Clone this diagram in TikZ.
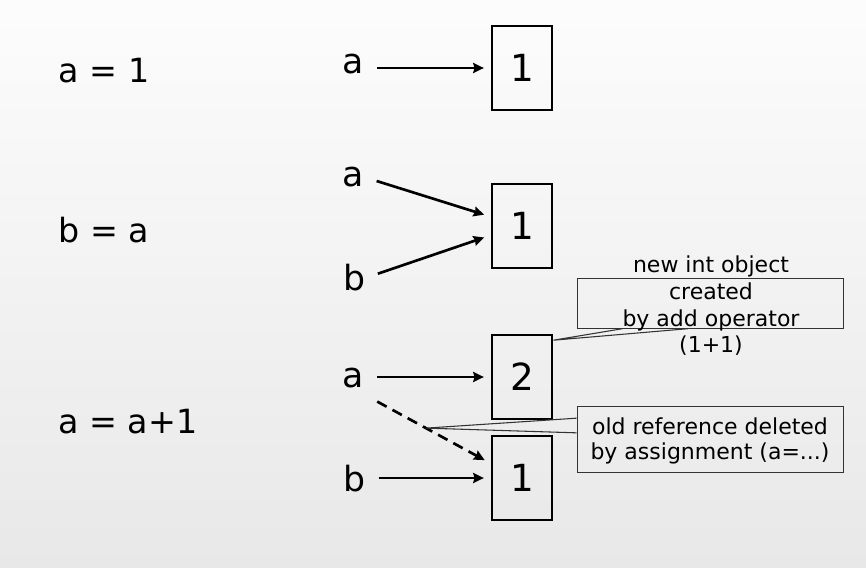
\documentclass[tikz,border=0pt]{standalone}
\usepackage{fontspec}
\setmainfont{DejaVu Sans}
\usetikzlibrary{arrows.meta}

\tikzset{
  objbox/.style={draw, line width=2.2pt, minimum width=45pt, minimum height=63pt, inner sep=0pt, font=\fontsize{28}{32}\selectfont},
  varname/.style={inner sep=0pt, font=\fontsize{26}{30}\selectfont},
  stmt/.style={inner sep=0pt, font=\fontsize{25}{30}\selectfont},
  ref/.style={line width=2pt, -{Stealth[length=8pt,width=7.5pt,inset=1pt]}, shorten >=5pt, shorten <=10pt},
  notebox/.style={draw=black!80, line width=0.8pt, inner sep=0pt},
  notetext/.style={inner sep=0pt, align=center, font=\fontsize{16.5}{20}\selectfont},
}

\begin{document}
\begin{tikzpicture}[x=0.75pt,y=0.75pt,yscale=-1,xscale=1]
% set diagram size
\useasboundingbox (0,0) rectangle (866,567);
\shade [top color=black!1, bottom color=black!9] (0,0) rectangle (866,567);

% Text Node
\draw (104,71) node[stmt] (st1) {a = 1};
% Text Node
\draw (104,230) node[stmt] (st2) {b = a};
% Text Node
\draw (128,422) node[stmt] (st3) {a = a+1};

%Shape: Rectangle
\draw (522,68) node[objbox] (box1) {1};
%Shape: Rectangle
\draw (522,226) node[objbox] (box2) {1};
%Shape: Rectangle
\draw (522,377) node[objbox] (box3) {2};
%Shape: Rectangle
\draw (522,478) node[objbox] (box4) {1};

% Text Node
\draw (353,64) node[varname] (la1) {a};
% Text Node
\draw (353,177) node[varname] (la2) {a};
% Text Node
\draw (354,278) node[varname] (lb2) {b};
% Text Node
\draw (353,378) node[varname] (la3) {a};
% Text Node
\draw (354,479) node[varname] (lb3) {b};

%Straight Lines
\draw [ref] (la1.east |- box1.west) -- (box1.west);
%Straight Lines
\draw [ref] (la2.east) -- ([yshift=-7pt]box2.west);
%Straight Lines
\draw [ref] (lb2.east) -- ([yshift=7pt]box2.west);
%Straight Lines
\draw [ref] (la3.east |- box3.west) -- (box3.west);
%Straight Lines
\draw [ref] (lb3.east |- box4.west) -- (box4.west);
%Straight Lines
\coordinate (a3tail) at ([xshift=10pt,yshift=10pt]la3.south east);
\draw [ref, shorten <=0pt, dash pattern={on 8pt off 5pt}] (a3tail) -- coordinate[pos=0.43] (del) ([yshift=-11pt]box4.west);

%Shape: Rectangle
\draw (710.5,303.5) node[notebox, minimum width=200pt, minimum height=37pt] (note1) {};
\draw (711,306) node[notetext] (note1txt) {new int object\\created\\by add operator\\(1+1)};
\draw [black!80, line width=0.8pt] ([xshift=-66pt]note1.south) -- ([yshift=5pt]box3.north east) -- ([xshift=-17pt]note1.south);

%Shape: Rectangle
\draw (710.5,439.5) node[notebox, minimum width=200pt, minimum height=49pt] (note2) {};
\draw (710,441) node[notetext, font=\fontsize{16.5}{19}\selectfont] (note2txt) {old reference deleted\\by assignment (a=...)};
\draw [black!80, line width=0.8pt] ([yshift=-16pt]note2.west) -- (del) -- ([yshift=-5pt]note2.west);

\end{tikzpicture}
\end{document}
